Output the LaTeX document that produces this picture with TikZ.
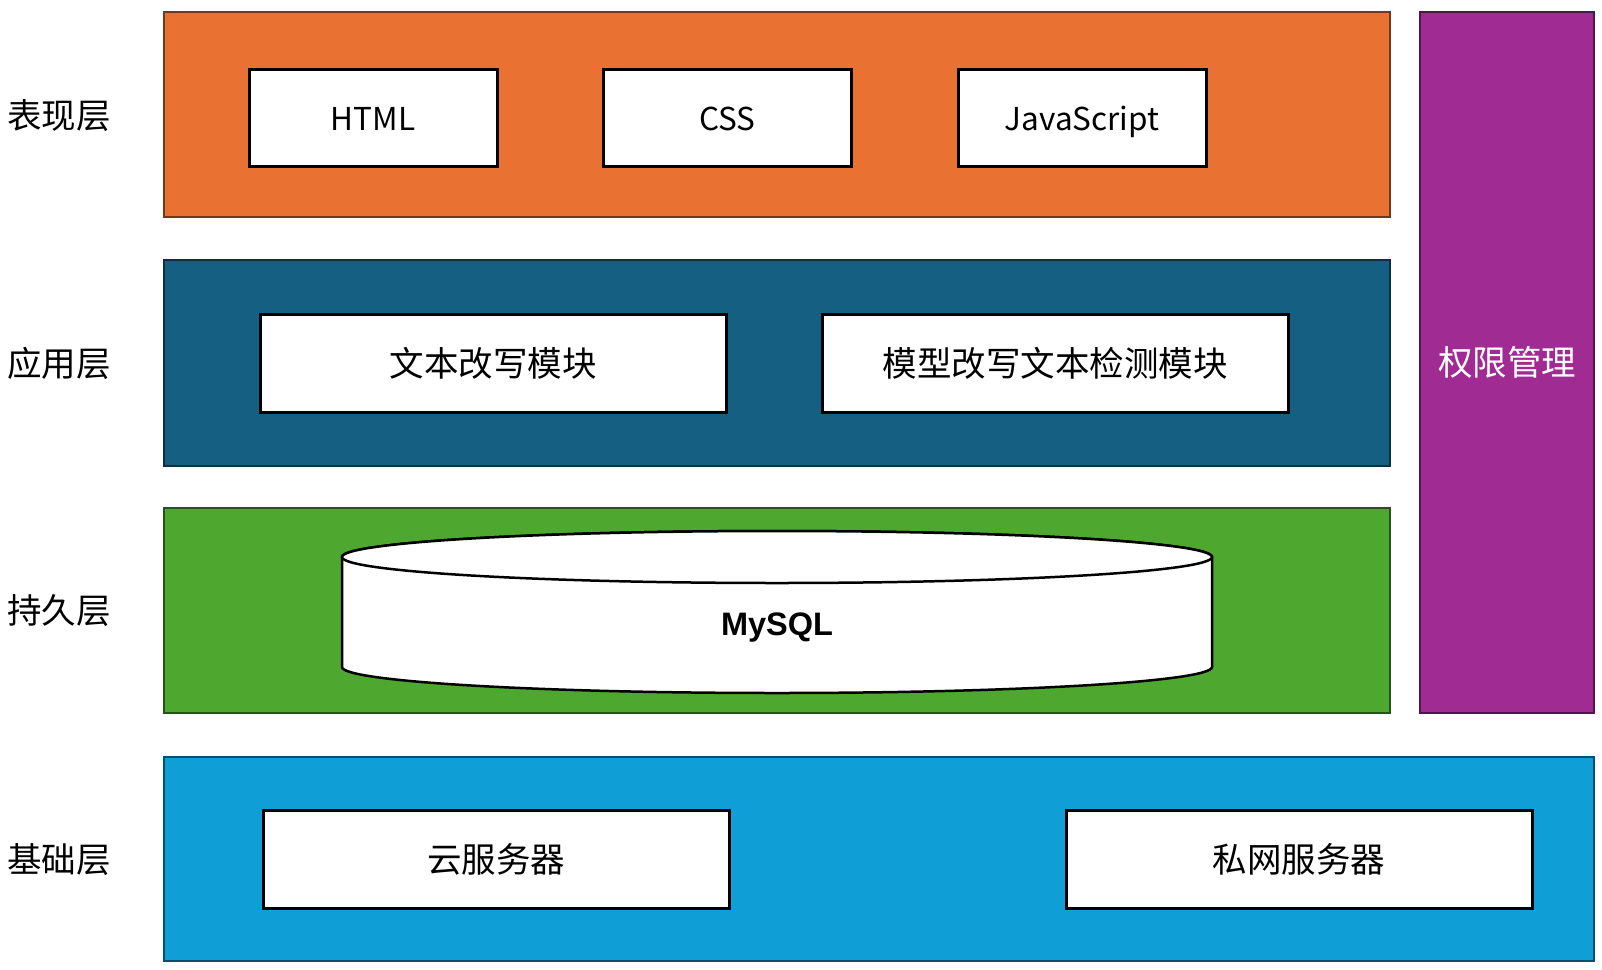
\documentclass[tikz,border=0pt]{standalone}
\usepackage{fontspec}
\setmainfont{Noto Sans CJK SC}
\newfontfamily\dbfont{Liberation Sans}
\usetikzlibrary{positioning}

\definecolor{arancio}{HTML}{E97132}
\definecolor{bluscuro}{HTML}{156082}
\definecolor{verde}{HTML}{4EA72E}
\definecolor{azzurro}{HTML}{0F9ED5}
\definecolor{viola}{HTML}{A02B93}

\begin{document}
\begin{tikzpicture}[x=1pt,y=-1pt]

% stili degli strati e dei riquadri
\tikzset{mylayer/.style={rectangle, fill=#1, draw=#1!50!black, line width=2.5pt, inner sep=0pt}}
\tikzset{mybox/.style={rectangle, fill=white, draw=black, line width=3pt, minimum height=97pt, inner sep=0pt, text height=30pt, text depth=4pt, font=\fontsize{34.5}{40}\selectfont}}
\tikzset{mylabel/.style={font=\fontsize{34.5}{40}\selectfont, inner sep=0pt, text height=30pt, text depth=4pt}}

\useasboundingbox (0,0) rectangle (1602,969);

% strati
\node[mylayer=arancio, minimum width=1226pt, minimum height=205pt] (pres) at (777,114.5) {};
\node[mylayer=bluscuro, minimum width=1226pt, minimum height=206pt] (app) at (777,363) {};
\node[mylayer=verde, minimum width=1226pt, minimum height=205pt] (pers) at (777,610.5) {};
\node[mylayer=azzurro, minimum width=1430pt, minimum height=204pt] (base) at (879,859) {};
\node[mylayer=viola, minimum width=174pt, minimum height=701pt, mylabel, text=white] (auth) at (1507,362.5) {权限管理};

% etichette a sinistra
\foreach \y/\text/\n in {{115/表现层/lpres},{363/应用层/lapp},{610/持久层/lpers},{859/基础层/lbase}}
\node[mylabel] (\n) at (59,\y) {\text};

% riquadri dello strato di presentazione
\foreach \x/\text/\n in {{373/HTML/html},{727.5/CSS/css},{1082/JavaScript/js}}
\node[mybox, minimum width=248pt, font=\fontsize{31.5}{38}\selectfont] (\n) at (\x,117.5) {\text};

% moduli applicativi
\node[mybox, minimum width=466pt, minimum height=98pt] (riscrivi) at (493,363) {文本改写模块};
\node[mybox, minimum width=466pt, minimum height=98pt] (rileva) at (1055,363) {模型改写文本检测模块};

% server
\node[mybox, minimum width=466pt, minimum height=98pt] (cloud) at (496,859) {云服务器};
\node[mybox, minimum width=466pt, minimum height=98pt] (privato) at (1299,859) {私网服务器};

% database a cilindro
\filldraw[fill=white, draw=black, line width=2.5pt] (342,557) -- (342,667) arc[start angle=180, end angle=0, x radius=435, y radius=26] -- (1212,557) arc[start angle=0, end angle=-180, x radius=435, y radius=26] -- cycle;
\filldraw[fill=white, draw=black, line width=2.5pt] (777,557) ellipse[x radius=435, y radius=26];
\node[font=\dbfont\bfseries\fontsize{32.5}{38}\selectfont] (db) at (777,628) {MySQL};

\end{tikzpicture}
\end{document}
